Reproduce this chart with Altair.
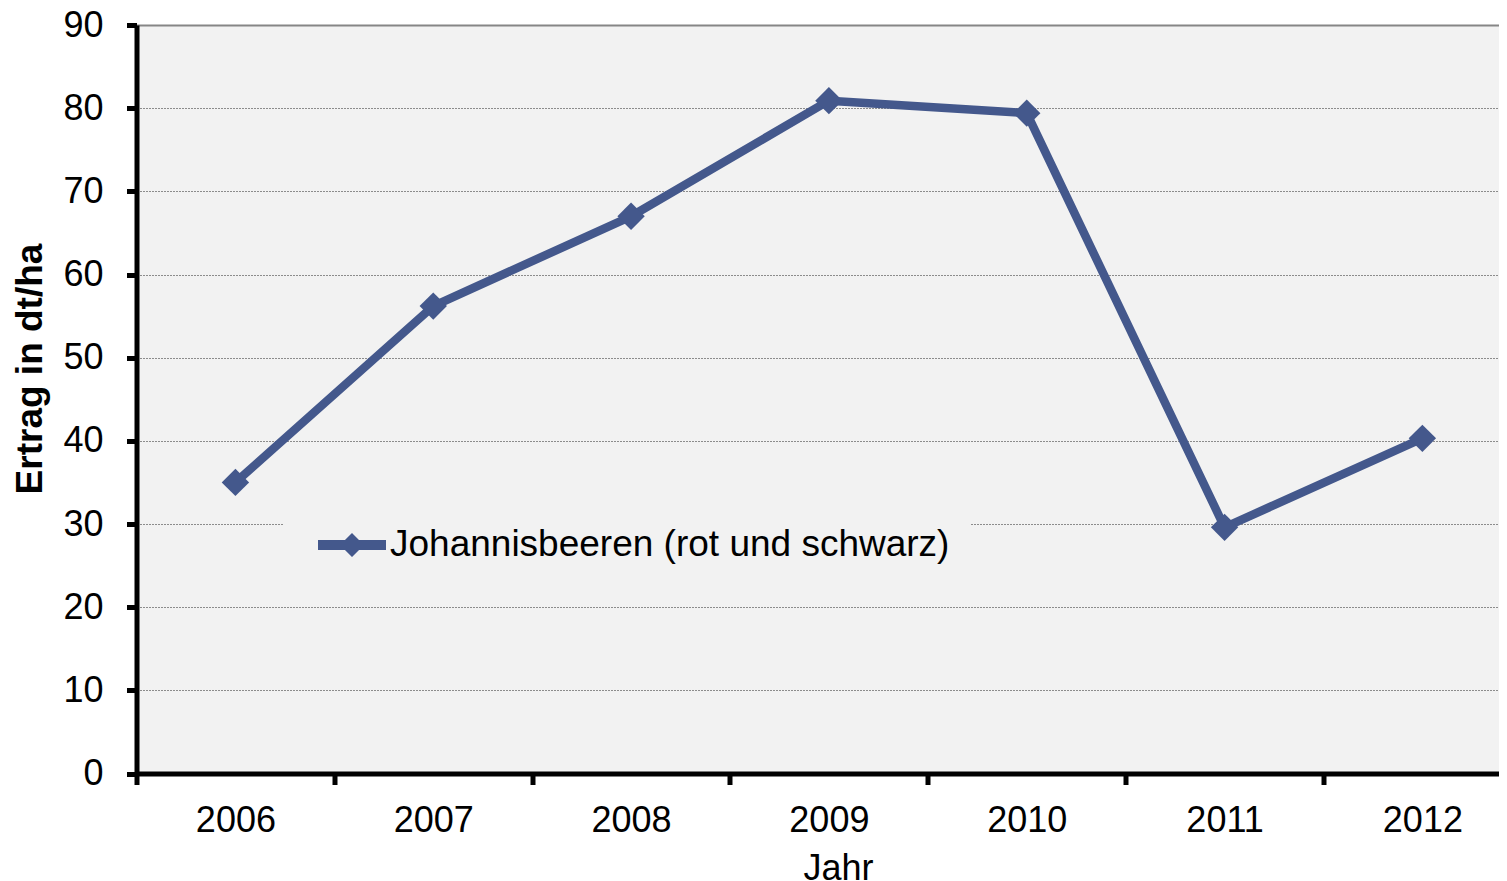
import altair as alt
import pandas as pd

# ---- data ----
years = ["2006", "2007", "2008", "2009", "2010", "2011", "2012"]
ertrag = [35.0, 56.2, 67.0, 80.9, 79.4, 29.6, 40.3]
series_name = "Johannisbeeren (rot und schwarz)"
y_tick_values = [0, 10, 20, 30, 40, 50, 60, 70, 80, 90]

df = pd.DataFrame({
    "Jahr": years,
    "Ertrag": ertrag,
    "Reihe": [series_name] * len(years),
})

FONT = "Liberation Sans"
COLOR = "#44588c"
LEGEND_SYMBOL = ("M-1,-0.147 L1,-0.147 L1,0.147 L-1,0.147 Z "
                 "M-0.353,0 L0,-0.353 L0.353,0 L0,0.353 Z")

x_enc = alt.X(
    "Jahr:O",
    sort=years,
    scale=alt.Scale(type="band", range=[0, 1384.8], paddingInner=0, paddingOuter=0),
    axis=alt.Axis(
        title="Jahr", labelAngle=0, tickBand="extent", grid=False,
        domainColor="black", domainWidth=5,
        tickColor="black", tickWidth=5, tickSize=11,
        labelPadding=19, labelFont=FONT, labelFontSize=36, labelColor="black",
        titleFont=FONT, titleFontSize=36, titleFontWeight="normal", titleColor="black",
        titleX=701.5, titleY=105.5, titleBaseline="alphabetic", titleAlign="center",
    ),
)
y_enc = alt.Y(
    "Ertrag:Q",
    scale=alt.Scale(domain=[0, 90], nice=False, zero=True),
    axis=alt.Axis(
        title="Ertrag in dt/ha", values=y_tick_values,
        grid=True,
        gridColor={"condition": {"test": "datum.value == 90", "value": "#868686"}, "value": "#8c8c8c"},
        gridDash={"condition": {"test": "datum.value == 90", "value": [1, 0]}, "value": [2, 1]},
        gridWidth={"condition": {"test": "datum.value == 90", "value": 2}, "value": 1},
        domainColor="black", domainWidth=5,
        tickColor="black", tickWidth=5, tickSize=10,
        labelPadding=23.5, labelFont=FONT, labelFontSize=36, labelColor="black",
        titleFont=FONT, titleFontSize=37, titleFontWeight="bold", titleColor="black",
        titleAngle=270, titleX=-95, titleY=343.5, titleBaseline="alphabetic", titleAlign="center",
    ),
)

line = alt.Chart(df).mark_line(
    strokeWidth=8.5, strokeJoin="round", strokeCap="round", color=COLOR
).encode(x=x_enc, y=y_enc)

points = alt.Chart(df).mark_point(
    shape="diamond", size=750, filled=True, opacity=1
).encode(
    x=x_enc, y=y_enc,
    color=alt.Color(
        "Reihe:N",
        scale=alt.Scale(domain=[series_name], range=[COLOR]),
        legend=alt.Legend(
            title=None, orient="none", legendX=146.5, legendY=466,
            fillColor="#f2f2f2", padding=20, symbolOffset=15,
            symbolType=LEGEND_SYMBOL, symbolSize=4624,
            symbolFillColor=COLOR, symbolStrokeWidth=0,
            labelFont=FONT, labelFontSize=37, labelColor="black",
            labelOffset=4, labelLimit=0,
        ),
    ),
)

chart = alt.layer(line, points).properties(
    width=1362.5,
    height=748.5,
    autosize=alt.AutoSizeParams(type="none"),
    padding={"left": 128.5, "top": 17, "right": 0, "bottom": 107.5},
    background="white",
).configure_view(
    fill="#f2f2f2", stroke=None, strokeWidth=0
)

chart.save("out.html", embed_options={"renderer": "svg", "actions": False})
